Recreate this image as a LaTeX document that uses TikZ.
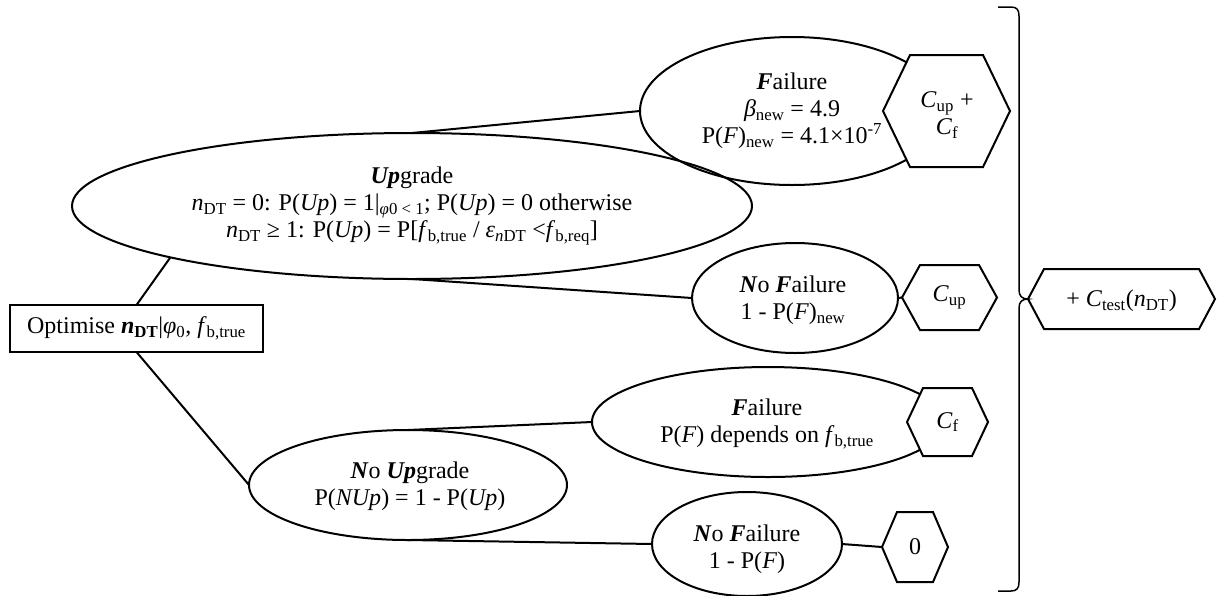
\documentclass[tikz,border=0pt]{standalone}
\usepackage{fontspec}
\setmainfont{Liberation Serif}
\usetikzlibrary{shapes.geometric}
\newcommand\bi[1]{\textbf{\textit{#1}}}
\newcommand\sbs[1]{\textsubscript{#1}}
\newcommand\hexout[2]{\draw[fill=white] (#1.west) -- ([xshift=#2]#1.north west) -- ([xshift=-#2]#1.north east) -- (#1.east) -- ([xshift=-#2]#1.south east) -- ([xshift=#2]#1.south west) -- cycle;}
\begin{document}
\begin{tikzpicture}[x=1pt,y=-1pt,line width=2pt,
  font=\fontsize{24}{27}\selectfont,
  ell/.style={draw,ellipse,inner sep=0pt,outer sep=0pt},
  hexbox/.style={rectangle,inner sep=0pt,outer sep=0pt},
  txt/.style={align=center,inner sep=0pt}]
\useasboundingbox (0,0) rectangle (1217,595);
% ellipses
\node[ell,minimum width=680,minimum height=146] (up) at (412,206) {};
\node[ell,minimum width=304,minimum height=148] (fu) at (792,111) {};
\node[ell,minimum width=206,minimum height=110] (nfu) at (795,298) {};
\node[ell,minimum width=352,minimum height=110] (fl) at (768,422) {};
\node[ell,minimum width=318,minimum height=110] (nup) at (408,485) {};
\node[ell,minimum width=190,minimum height=104] (nfl) at (747,544) {};
% root
\node[draw,rectangle,inner sep=0pt,outer sep=0pt,minimum width=253,minimum height=47] (root) at (136.5,328.5)
  {Optimise \bi{n}\sbs{\textbf{DT}}|\textit{φ}\sbs{0}, \textit{f}\sbs{b,true}};
% connectors
\draw (root.north) -- (up.192);
\draw (root.south) -- (nup.west);
\draw (up.north) -- (fu.west);
\draw (up.south) -- (nfu.west);
\draw (nup.north) -- (fl.west);
\draw (nup.south) -- (nfl.west);
% hexagons
\node[hexbox,minimum width=127,minimum height=112] (hf) at (946.5,111) {};
\hexout{hf}{27}
\node[hexbox,minimum width=95,minimum height=65] (hcup) at (949.5,297.5) {};
\hexout{hcup}{18}
\node[hexbox,minimum width=81,minimum height=68] (hcf) at (947.5,422) {};
\hexout{hcf}{16}
\node[hexbox,minimum width=66,minimum height=70] (hz) at (915,547) {};
\hexout{hz}{15}
\node[hexbox,minimum width=187,minimum height=60] (hct) at (1121.5,299) {};
\hexout{hct}{16}
\draw (nfu.east) -- (hcup.west);
\draw (nfl.east) -- (hz.west);
% brace
\draw[line width=1.5pt] (998,7) -- (1011,7) .. controls (1017,7) and (1019,10) .. (1019,16) -- (1019,290)
  .. controls (1019,296) and (1022,299) .. (hct.west)
  .. controls (1022,299) and (1019,302) .. (1019,308) -- (1019,582)
  .. controls (1019,588) and (1017,591) .. (1011,591) -- (998,591);
% texts
\node[txt] (upt) at (412,206) {\bi{Up}grade\\
  \textit{n}\sbs{DT} = 0: P(\textit{Up}) = 1|\sbs{\textit{φ}0 < 1}; P(\textit{Up}) = 0 otherwise\\
  \textit{n}\sbs{DT} ≥ 1: P(\textit{Up}) = P[\textit{f}\sbs{b,true} / \textit{ε}\sbs{\textit{n}DT} <\textit{f}\sbs{b,req}]};
\node[txt] (fut) at (792,111) {\bi{F}ailure\\ \textit{β}\sbs{new} = 4.9\\ P(\textit{F})\sbs{new} = 4.1×10\textsuperscript{-7}};
\node[txt] (nfut) at (793,300) {\bi{N}o \bi{F}ailure\\ 1 - P(\textit{F})\sbs{new}};
\node[txt] (flt) at (767,424) {\bi{F}ailure\\ P(\textit{F}) depends on \textit{f}\sbs{b,true}};
\node[txt] (nupt) at (410,486) {\bi{N}o \bi{Up}grade\\ P(\textit{NUp}) = 1 - P(\textit{Up})};
\node[txt] (nflt) at (747,549) {\bi{N}o \bi{F}ailure\\ 1 - P(\textit{F})};
\node[txt] (hft) at (947,115) {\textit{C}\sbs{up} +\\ \textit{C}\sbs{f}};
\node[txt] (hcupt) at (hcup) {\textit{C}\sbs{up}};
\node[txt] (hcft) at (hcf) {\textit{C}\sbs{f}};
\node[txt] (hzt) at (hz) {0};
\node[txt] (hctt) at (1121.5,301) {+ \textit{C}\sbs{test}(\textit{n}\sbs{DT})};
\end{tikzpicture}
\end{document}
